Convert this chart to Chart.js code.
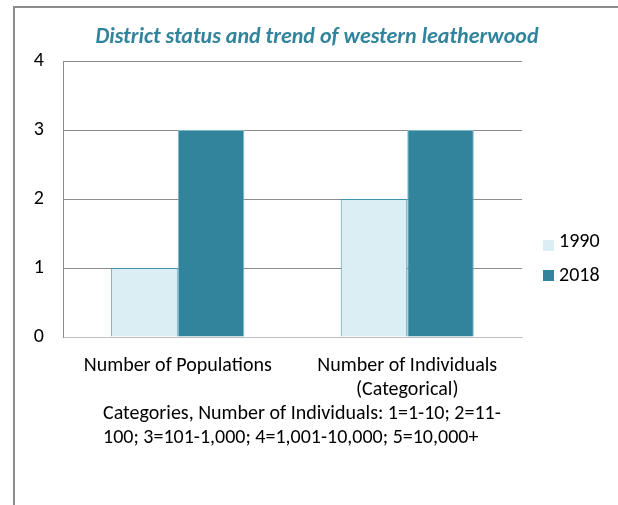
<!DOCTYPE html>
<html>
<head>
<meta charset="utf-8">
<script src="https://cdn.jsdelivr.net/npm/chart.js@4/dist/chart.umd.min.js"></script>
<style>
html,body{margin:0;padding:0;background:#fff;}
#wrap{width:618px;height:505px;}
</style>
</head>
<body>
<div id="wrap"><canvas id="c" width="618" height="505"></canvas></div>
<script>
const categories = [["Number of Populations"], ["Number of Individuals", "(Categorical)"]];
const seriesNames = ["1990", "2018"];
const values1990 = [1, 2];
const values2018 = [3, 3];
const yTicks = [0, 1, 2, 3, 4];
const titleText = "District status and trend of western leatherwood";
const noteLines = ["Categories, Number of Individuals: 1=1-10; 2=11-", "100; 3=101-1,000; 4=1,001-10,000; 5=10,000+"];

const FONT = "Carlito, Lato, 'Open Sans', sans-serif";
const TEAL = "#31849B";
const LIGHT = "#DAEEF3";

const decor = {
  id: 'decor',
  beforeDraw(chart) {
    const ctx = chart.ctx;
    ctx.save();
    ctx.strokeStyle = '#8c8c8c';
    ctx.lineWidth = 2;
    ctx.beginPath();
    ctx.moveTo(14, 505);
    ctx.lineTo(14, 7);
    ctx.lineTo(618, 7);
    ctx.stroke();
    ctx.restore();
  },
  afterDraw(chart) {
    const ctx = chart.ctx;
    const ca = chart.chartArea;
    ctx.save();
    // title
    ctx.font = "italic bold 22px " + FONT;
    ctx.fillStyle = TEAL;
    ctx.textAlign = 'center';
    ctx.textBaseline = 'alphabetic';
    ctx.fillText(titleText, 317, 43);
    // notes
    ctx.font = "20px " + FONT;
    ctx.fillStyle = '#000';
    ctx.textAlign = 'left';
    ctx.textBaseline = 'middle';
    ctx.fillText(noteLines[0], 103, ca.bottom + 77);
    ctx.fillText(noteLines[1], 103, ca.bottom + 101);
    // legend
    const ds = chart.data.datasets;
    ds.forEach((d, i) => {
      const top = 240 + i * 30;
      ctx.fillStyle = d.backgroundColor;
      ctx.fillRect(543, top, 11, 11);
      ctx.fillStyle = '#000';
      ctx.textBaseline = 'alphabetic';
      ctx.fillText(d.label, 559, top + 7 + i * 4);
    });
    ctx.restore();
  }
};

new Chart(document.getElementById('c'), {
  type: 'bar',
  data: {
    labels: categories,
    datasets: [
      { label: seriesNames[0], data: values1990, backgroundColor: LIGHT, borderColor: '#3F93AB', borderWidth: 1 },
      { label: seriesNames[1], data: values2018, backgroundColor: TEAL, borderColor: '#7FB6C6', borderWidth: 1 }
    ]
  },
  options: {
    responsive: false,
    animation: false,
    layout: { padding: { left: 0, right: 96, top: 61, bottom: 0 } },
    datasets: { bar: { categoryPercentage: 0.58, barPercentage: 1.0 } },
    plugins: {
      legend: { display: false },
      tooltip: { enabled: false },
      title: { display: false }
    },
    scales: {
      x: {
        grid: { display: false, drawTicks: false },
        border: { display: true, color: '#bfbfbf', width: 1 },
        ticks: { color: '#000', font: { family: FONT, size: 20, lineHeight: 1.2 }, padding: 17, maxRotation: 0 },
        afterFit(s) { s.height = 168; }
      },
      y: {
        min: 0, max: 4,
        afterBuildTicks(s) { s.ticks = yTicks.map(v => ({ value: v })); },
        grid: { color: '#8c8c8c', drawTicks: false, lineWidth: 1 },
        border: { display: true, color: '#8c8c8c', width: 1 },
        ticks: { color: '#000', font: { family: FONT, size: 20 }, padding: 19 },
        afterFit(s) { s.width = 63; }
      }
    }
  },
  plugins: [decor]
});
</script>
</body>
</html>
